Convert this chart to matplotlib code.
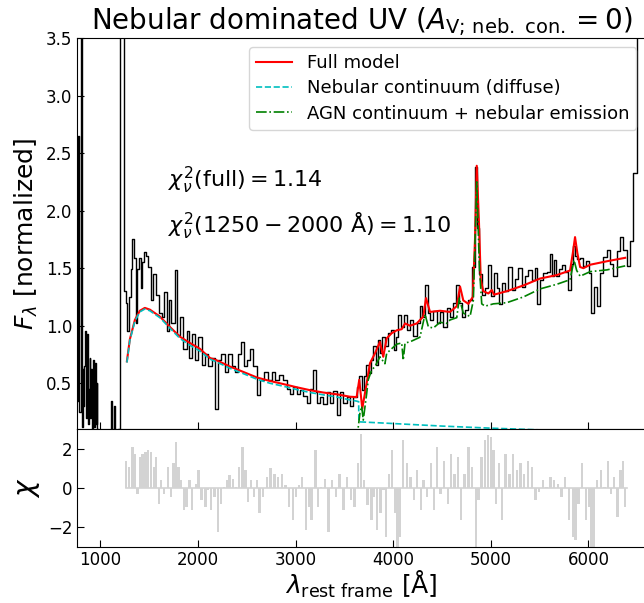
import numpy as np
import matplotlib.pyplot as plt

# observed spectrum (rest frame, normalized)
wl_obs = [765, 775, 790, 806, 815, 822, 830, 838, 846, 854, 862, 870, 878, 886, 894, 902, 910, 918,
          926, 934, 942, 950, 958, 966, 974, 985, 1000, 1020, 1040, 1060, 1080, 1100, 1114, 1122,
          1134, 1148, 1158, 1175, 1192, 1204, 1216, 1228, 1240,
          1252, 1268, 1284, 1301, 1319, 1335, 1353, 1370, 1387, 1404, 1421, 1438, 1455, 1479, 1506,
          1524, 1558, 1582, 1609, 1643, 1670, 1694, 1711, 1745, 1773, 1797, 1831, 1865, 1899, 1924,
          1950, 1985, 2019, 2053, 2088, 2122, 2156, 2190, 2217, 2258, 2293, 2327, 2361, 2395, 2429,
          2457, 2480, 2514, 2549, 2583, 2617, 2652, 2703, 2737, 2771, 2812, 2846, 2890, 2924, 2959,
          2993, 3027, 3062, 3096, 3129, 3164, 3198, 3215, 3232, 3267, 3301, 3334, 3369, 3403, 3437,
          3472, 3506, 3539, 3574, 3608, 3642, 3667, 3693, 3711, 3734, 3762, 3779, 3813, 3831, 3857,
          3882, 3898, 3933, 3967, 3995, 4018, 4036, 4069, 4097, 4121, 4155, 4189, 4223, 4257, 4282,
          4308, 4343, 4370, 4394, 4428, 4462, 4497, 4531, 4565, 4599, 4633, 4661, 4685, 4718, 4753,
          4787, 4821, 4849, 4872, 4890, 4923, 4958, 4992, 5020, 5043, 5077, 5095, 5128, 5163, 5197,
          5231, 5266, 5300, 5334, 5368, 5402, 5436, 5464, 5487, 5522, 5556, 5590, 5615, 5641, 5659,
          5682, 5710, 5744, 5778, 5805, 5830, 5846, 5874, 5897, 5932, 5966, 5990, 6017, 6045, 6069,
          6103, 6137, 6171, 6205, 6240, 6274, 6307, 6342, 6377, 6410, 6445, 6479, 6512, 6550]
flux_obs = [0.35, 2.65, 0.25, 3.8, 0.12, 0.62, 0.3, 0.65, 0.95, 0.2, 0.5, 0.93, 0.15, 0.45, 0.72, 0.2, 0.62, 0.1,
            0.7, 0.35, 0.12, 0.68, 0.15, 0.5, 0.1, 0.05, 0.03, 0.05, 0.02, 0.04, 0.03, 0.05, 0.35, 0.05,
            0.04, 0.3, 0.05, 0.04, 0.1, 3.9, 3.9, 3.9, 3.9,
            1.3, 1.2, 0.95, 1.25, 1.49, 1.75, 1.59, 1.02, 1.49, 1.59, 1.33, 1.55, 1.64, 1.61, 1.51,
            1.22, 1.45, 1.27, 1.11, 1.08, 1.29, 0.95, 1.22, 1.02, 1.48, 0.92, 1.08, 0.80, 0.95, 0.72,
            0.93, 0.70, 0.90, 0.66, 0.75, 0.65, 0.72, 0.28, 0.70, 0.75, 0.60, 0.75, 0.65, 0.60, 0.75,
            0.86, 0.65, 0.70, 0.80, 0.65, 0.40, 0.53, 0.60, 0.53, 0.60, 0.53, 0.57, 0.53, 0.45, 0.41,
            0.47, 0.41, 0.44, 0.39, 0.33, 0.45, 0.615, 0.42, 0.33, 0.38, 0.32, 0.42, 0.33, 0.43, 0.22,
            0.42, 0.33, 0.38, 0.30, 0.38, 0.47, 0.56, 0.44, 0.56, 0.66, 0.59, 0.70, 0.82, 0.66, 0.88,
            0.76, 0.90, 0.82, 0.94, 0.96, 0.79, 0.90, 1.09, 0.99, 1.09, 0.96, 1.05, 0.91, 1.02, 1.17,
            1.08, 1.35, 1.11, 1.05, 1.13, 1.02, 1.12, 0.99, 1.15, 1.08, 1.20, 1.35, 1.20, 1.08, 1.14,
            1.22, 1.51, 2.38, 1.85, 1.45, 1.27, 1.33, 1.53, 1.26, 1.46, 1.33, 1.19, 1.37, 1.30, 1.51,
            1.31, 1.41, 1.50, 1.34, 1.43, 1.48, 1.40, 1.50, 1.19, 1.40, 1.46, 1.47, 1.62, 1.43, 1.57,
            1.43, 1.49, 1.53, 1.47, 1.31, 1.54, 1.69, 1.61, 1.58, 1.59, 1.52, 1.56, 1.46, 1.11, 1.34,
            1.17, 1.46, 1.60, 1.66, 1.54, 1.43, 1.65, 1.77, 1.66, 1.52, 1.74, 2.33, 3.8, 3.8]

# full model
wl_full = [1271, 1301, 1353, 1404, 1455, 1506, 1609, 1711, 1814, 1917, 2019, 2050, 2122, 2190, 2327,
           2460, 2604, 2737, 2870, 3013, 3147, 3280, 3424, 3557, 3625, 3652, 3683, 3728, 3762, 3813,
           3864, 3898, 3933, 3984, 4036, 4087, 4121, 4172, 4241, 4308, 4336, 4377, 4480, 4582, 4651,
           4685, 4718, 4770, 4815, 4838, 4856, 4879, 4897, 4923, 4975, 5010, 5033, 5163, 5334, 5505,
           5676, 5812, 5840, 5863, 5887, 5915, 5949, 6018, 6189, 6377]
flux_full = [0.69, 0.88, 1.05, 1.13, 1.155, 1.14, 1.08, 0.99, 0.905, 0.85, 0.80, 0.775, 0.72, 0.70, 0.645,
             0.60, 0.55, 0.52, 0.494, 0.465, 0.44, 0.42, 0.404, 0.383, 0.38, 0.53, 0.28, 0.50, 0.674, 0.76,
             0.86, 0.73, 0.89, 0.935, 0.96, 0.97, 1.02, 1.0, 1.02, 1.08, 1.24, 1.12, 1.13, 1.12, 1.17,
             1.34, 1.22, 1.19, 1.25, 1.75, 2.39, 1.89, 1.40, 1.30, 1.28, 1.31, 1.27, 1.30, 1.35, 1.41,
             1.44, 1.48, 1.63, 1.77, 1.63, 1.51, 1.50, 1.53, 1.56, 1.59]

# nebular continuum (diffuse)
wl_neb = [1271, 1301, 1353, 1404, 1455, 1506, 1609, 1711, 1814, 1917, 2019, 2122, 2190, 2327, 2460,
          2604, 2737, 2870, 3013, 3147, 3280, 3424, 3557, 3625, 3646, 3648, 4000, 4500, 5000, 5500,
          6000, 6400]
flux_neb = [0.68, 0.87, 1.04, 1.12, 1.145, 1.13, 1.07, 0.98, 0.89, 0.83, 0.78, 0.71, 0.685, 0.63, 0.585,
            0.535, 0.50, 0.475, 0.445, 0.42, 0.40, 0.38, 0.355, 0.345, 0.34, 0.165, 0.150, 0.128, 0.110, 0.095,
            0.082, 0.075]

# AGN continuum + nebular emission
wl_agn = [3620, 3642, 3659, 3677, 3693, 3728, 3744, 3779, 3813, 3864, 3915, 3933, 3984, 4036, 4087,
          4103, 4121, 4172, 4274, 4326, 4360, 4411, 4480, 4548, 4582, 4651, 4677, 4718, 4787, 4821,
          4856, 4883, 4907, 4941, 5026, 5163, 5334, 5505, 5676, 5812, 5853, 5880, 5915, 6018, 6189,
          6377]
flux_agn = [0.0, 0.12, 0.24, 0.30, 0.18, 0.41, 0.53, 0.615, 0.645, 0.73, 0.67, 0.76, 0.80, 0.84, 0.85,
            0.70, 0.85, 0.86, 0.90, 1.10, 0.99, 0.98, 1.03, 1.02, 1.05, 1.07, 1.24, 1.11, 1.08, 1.22,
            2.25, 1.51, 1.19, 1.17, 1.19, 1.20, 1.25, 1.32, 1.36, 1.40, 1.57, 1.48, 1.43, 1.47, 1.485,
            1.52]

# residuals
wl_res = [1264, 1291, 1329, 1348, 1379, 1406, 1432, 1463, 1490, 1520, 1547, 1570, 1597, 1624, 1654,
          1692, 1723, 1750, 1776, 1799, 1826, 1857, 1883, 1914, 1941, 1979, 2006, 2036, 2075, 2105,
          2132, 2170, 2208, 2235, 2266, 2296, 2323, 2361, 2388, 2419, 2457, 2487, 2514, 2541, 2572,
          2602, 2629, 2667, 2705, 2744, 2782, 2820, 2858, 2896, 2935, 2973, 3003, 3038, 3068, 3107,
          3137, 3164, 3202, 3229, 3259, 3298, 3336, 3374, 3412, 3451, 3489, 3527, 3565, 3604, 3642,
          3672, 3699, 3737, 3776, 3806, 3833, 3871, 3902, 3928, 3955, 3986, 4016, 4043, 4070, 4100,
          4139, 4177, 4215, 4246, 4284, 4311, 4349, 4387, 4418, 4452, 4483, 4521, 4559, 4590, 4628,
          4666, 4693, 4731, 4770, 4808, 4846, 4873, 4903, 4941, 4972, 4999, 5026, 5056, 5087, 5114,
          5152, 5190, 5228, 5266, 5304, 5343, 5381, 5419, 5458, 5496, 5534, 5572, 5610, 5649, 5687,
          5725, 5763, 5801, 5840, 5867, 5897, 5935, 5973, 6004, 6031, 6058, 6088, 6127, 6165, 6203,
          6233, 6260, 6298, 6329, 6356, 6375, 6394]
chi = [1.4, 1.07, 2.1, 1.75, -0.3, 1.6, 1.75, 1.85, 1.93, 1.85, 1.07, 1.6, -0.8, 0.4, -0.3,
       1.07, -0.46, 1.25, 2.35, 1.07, 0.4, -1.14, -0.97, 0.4, -1.14, 0.22, 0.9, -0.63, -0.97, -0.12,
       -1.14, -0.46, -2.25, -0.8, 0.05, 0.4, 0.65, 0.48, 0.05, 1.07, 2.1, 0.9, -0.72, 0.4, -0.46,
       0.4, -1.31, -0.46, 0.56, 1.0, 0.73, 0.56, 0.73, 0.14, -0.97, -1.66, -0.46, 0.14, 0.56, -2.17,
       -0.97, -1.66, 1.93, -0.97, 0.05, 0.48, -2.25, 0.4, -0.46, 0.73, -1.14, 0.56, -0.63, -0.97, 1.25,
       2.78, 0.4, -0.89, -1.66, -0.46, -2.17, -1.31, -0.12, -2.5, 0.73, 1.93, -1.31, -3.0, -2.5, 2.44,
       1.25, 0.56, -0.63, 0.9, -1.14, 0.4, -0.46, 1.25, -1.14, 2.1, -0.3, 1.4, -0.8, 1.75, 0.73,
       1.6, -1.66, 0.73, 2.1, 1.07, -3.0, -0.63, 1.6, 2.44, 2.7, 2.6, 1.93, -0.8, 1.25, -1.66,
       1.75, 0.73, 1.75, 0.9, 1.25, 0.73, 1.4, 1.07, -0.63, -0.2, 0.4, 0.05, 0.56, 0.4, 0.22,
       -0.46, 0.56, -1.66, -2.5, -2.68, -0.8, 1.25, -1.66, -0.97, -3.0, -3.0, 0.4, 0.9, 0.05, 1.4,
       -0.3, 0.56, -1.48, 0.9, 1.4, -0.97, 0.0]

W, H = 644, 603
fig = plt.figure(figsize=(W / 100, H / 100), dpi=100)
x0, x1 = 77.2, 645.5
ax = fig.add_axes([x0 / W, 1 - 429.3 / H, (x1 - x0) / W, (429.3 - 38) / H])
axr = fig.add_axes([x0 / W, 1 - 546.5 / H, (x1 - x0) / W, (546.5 - 429.3) / H], sharex=ax)

ax.plot(wl_obs, flux_obs, color='k', lw=1.0, drawstyle='steps-mid')
ax.plot(wl_full, flux_full, color='red', lw=1.5, label='Full model')
ax.plot(wl_neb, flux_neb, color='c', ls='--', lw=1.2, label='Nebular continuum (diffuse)')
ax.plot(wl_agn, flux_agn, color='green', ls='-.', lw=1.2, label='AGN continuum + nebular emission')

ax.set_xlim(762, 6585)
ax.set_ylim(0.1, 3.5)
ax.set_ylabel(r'$F_\lambda$ [normalized]', fontsize=18)
ax.set_title(r'Nebular dominated UV ($A_\mathrm{V;\, neb.\ con.} = 0$)', fontsize=20)
ax.legend(loc='upper right', fontsize=13, labelspacing=0.4)
ax.text(1690, 2.2, r'$\chi^2_\nu(\mathrm{full}) = 1.14$', fontsize=16)
ax.text(1690, 1.81, r'$\chi^2_\nu(1250 - 2000\ \mathrm{\AA}) = 1.10$', fontsize=16)
ax.tick_params(direction='in', length=5, labelsize=12, labelbottom=False)

axr.bar(wl_res, chi, width=24, color='lightgray')
axr.axhline(0, color='lightgray', lw=1.2, xmin=(1264 - 762) / (6585 - 762), xmax=(6394 - 762) / (6585 - 762))
axr.set_ylim(-3, 3)
axr.set_yticks([-2, 0, 2])
axr.set_xticks([1000, 2000, 3000, 4000, 5000, 6000])
axr.set_ylabel(r'$\chi$', fontsize=20)
axr.set_xlabel(r'$\lambda_\mathrm{rest\ frame}$ [Å]', fontsize=18, labelpad=0)
axr.tick_params(direction='in', length=5, labelsize=12)
axr.tick_params(axis='x', pad=3)

fig.align_ylabels([ax, axr])
fig.savefig('out.png', dpi=100)
